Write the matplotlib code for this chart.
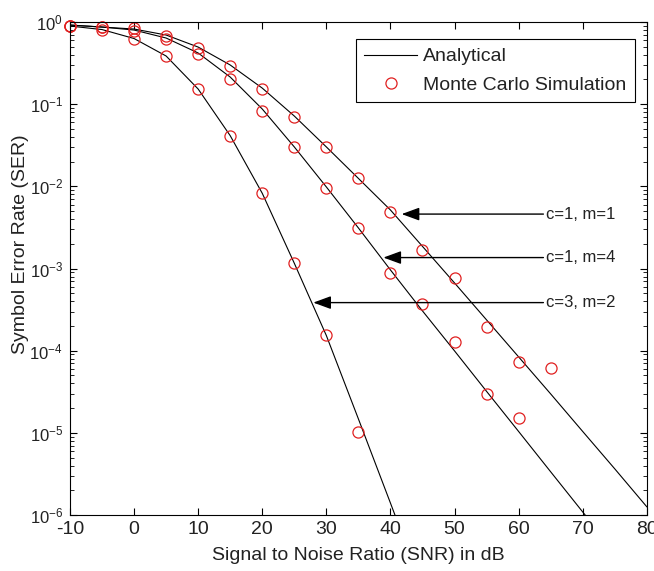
import matplotlib
matplotlib.use("Agg")
import matplotlib.pyplot as plt

plt.rcParams['font.family'] = ['Liberation Sans', 'DejaVu Sans']
plt.rcParams['mathtext.fontset'] = 'custom'
plt.rcParams['mathtext.rm'] = 'Liberation Sans'
plt.rcParams['mathtext.it'] = 'Liberation Sans'
plt.rcParams['axes.unicode_minus'] = False

# analytical curves
snr_a = [-10, -5, 0, 5, 10, 15, 20, 25, 30, 35, 40, 45, 50, 55, 60, 65, 70, 75, 80]
ser_a = [0.919, 0.869, 0.822, 0.695, 0.496, 0.300, 0.157, 0.0718, 0.0302, 0.0125,
         5.16e-3, 1.86e-3, 6.68e-4, 2.37e-4, 8.41e-5, 2.98e-5, 1.04e-5, 3.65e-6, 1.26e-6]
snr_b = [-10, -5, 0, 5, 10, 15, 20, 25, 30, 35, 40, 45, 50, 55, 60, 65, 70, 75]
ser_b = [0.919, 0.869, 0.799, 0.639, 0.420, 0.214, 0.0874, 0.0302, 9.84e-3, 3.12e-3,
         9.62e-4, 3.05e-4, 9.95e-5, 3.20e-5, 1.04e-5, 3.36e-6, 1.09e-6, 3.56e-7]
snr_c = [-10, -5, 0, 5, 10, 15, 20, 25, 30, 35, 40, 45]
ser_c = [0.894, 0.81, 0.630, 0.386, 0.153, 0.0414, 8.24e-3, 1.16e-3, 1.53e-4,
         1.48e-5, 1.40e-6, 1.3e-7]

# monte carlo points
sim_snr_a = [-10, -5, 0, 5, 10, 15, 20, 25, 30, 35, 40, 45, 50, 55, 60, 65]
sim_ser_a = [0.89, 0.87, 0.84, 0.68, 0.48, 0.29, 0.152, 0.0705, 0.030, 0.0126,
             4.84e-3, 1.68e-3, 7.6e-4, 1.93e-4, 7.2e-5, 6.2e-5]
sim_snr_b = [-10, -5, 0, 5, 10, 15, 20, 25, 30, 35, 40, 45, 50, 55, 60]
sim_ser_b = [0.89, 0.87, 0.78, 0.62, 0.41, 0.203, 0.083, 0.030, 0.0095, 3.15e-3,
             8.8e-4, 3.7e-4, 1.27e-4, 3.0e-5, 1.53e-5]
sim_snr_c = [-10, -5, 0, 5, 10, 15, 20, 25, 30, 35]
sim_ser_c = [0.89, 0.81, 0.63, 0.385, 0.153, 0.041, 0.0082, 1.16e-3, 1.56e-4, 1.02e-5]

# arrow labels: text, tip, text start
labels = ['c=1, m=1', 'c=1, m=4', 'c=3, m=2']
tips = [(41.75, 4.6e-3), (38.9, 1.36e-3), (27.96, 3.85e-4)]
text_x = 64.3

fig = plt.figure(figsize=(6.54, 5.71), dpi=100)
ax = fig.add_axes([0.107, 0.098, 0.882, 0.8634])

ax.semilogy(snr_a, ser_a, color='k', lw=0.8, label='Analytical')
ax.semilogy(snr_b, ser_b, color='k', lw=0.8)
ax.semilogy(snr_c, ser_c, color='k', lw=0.8)

mk = dict(ls='none', marker='o', ms=8, mfc='none', mec='#e02020', mew=0.9, clip_on=False)
ax.semilogy(sim_snr_a, sim_ser_a, label='Monte Carlo Simulation', **mk)
ax.semilogy(sim_snr_b, sim_ser_b, **mk)
ax.semilogy(sim_snr_c, sim_ser_c, **mk)

for lab, tip in zip(labels, tips):
    ax.annotate(lab, xy=tip, xytext=(text_x, tip[1]), ha='left', va='center',
                fontsize=12, color='#222222',
                arrowprops=dict(arrowstyle='-|>,head_length=0.9,head_width=0.33',
                                color='k', lw=1, shrinkA=0, shrinkB=0))

ax.set_xlim(-10, 80)
ax.set_ylim(1e-6, 1)
ax.set_xticks([-10, 0, 10, 20, 30, 40, 50, 60, 70, 80])
ax.tick_params(which='both', direction='in', top=True, right=True,
               labelsize=14, labelcolor='#222222', pad=4)
ax.tick_params(axis='y', labelsize=12, pad=5)
ax.tick_params(which='major', length=5)
ax.tick_params(which='minor', length=3)

ax.set_xlabel('Signal to Noise Ratio (SNR) in dB', fontsize=14, color='#222222', labelpad=7)
ax.set_ylabel('Symbol Error Rate (SER)', fontsize=14, color='#222222')
ax.yaxis.set_label_coords(-0.071, 0.55)

leg = ax.legend(loc='upper right', bbox_to_anchor=(0.979, 0.9655), borderaxespad=0,
                fontsize=14, fancybox=False, edgecolor='k', framealpha=1,
                handlelength=2.7, handletextpad=0.3, borderpad=0.45, labelspacing=0.55)
leg.get_frame().set_linewidth(0.8)
for t in leg.get_texts():
    t.set_color('#222222')

fig.savefig('out.png', dpi=100)
